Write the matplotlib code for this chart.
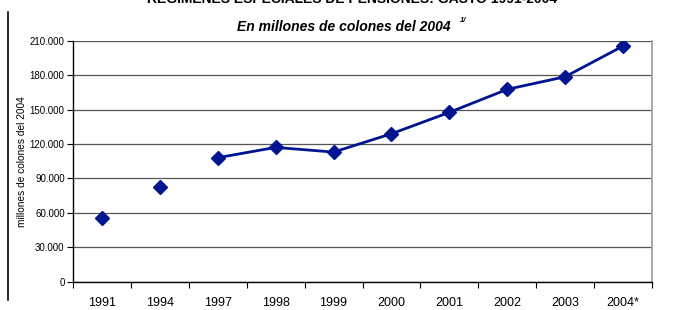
import matplotlib
matplotlib.use("Agg")
import matplotlib.pyplot as plt
from matplotlib.ticker import FuncFormatter, FixedLocator
from matplotlib.lines import Line2D

years = ["1991", "1994", "1997", "1998", "1999", "2000", "2001", "2002", "2003", "2004*"]
values = [55400, 82500, 108100, 117100, 113000, 129000, 147700, 167800, 178800, 205600]
connected_from = 2  # line starts at 1997

title = "REGIMENES ESPECIALES DE PENSIONES: GASTO 1991-2004"
subtitle = "En millones de colones del 2004"
ylabel = "millones de colones del 2004"

plt.rcParams['font.family'] = ['Liberation Sans', 'DejaVu Sans']

fig = plt.figure(figsize=(6.83, 3.10), dpi=100)
ax = fig.add_axes([73/683, 1-281.5/310, (652-73)/683, (281.5-41)/310])

navy = '#001590'
x = list(range(len(years)))
ax.plot(x[connected_from:], values[connected_from:], color=navy, lw=2, zorder=3)
ax.plot(x, values, ls='none', marker='D', ms=7, color=navy, zorder=4)

ax.set_xlim(-0.5, len(years) - 0.5)
ax.set_ylim(0, 210000)
ax.yaxis.set_major_locator(FixedLocator(range(0, 210001, 30000)))
ax.yaxis.set_major_formatter(FuncFormatter(lambda v, p: f"{int(v):,}".replace(",", ".")))
ax.tick_params(axis='y', labelsize=7, length=4, width=0.8, direction='out', pad=2)

ax.set_xticks([i - 0.5 for i in range(len(years) + 1)])
ax.set_xticklabels([])
ax.set_xticks(x, minor=True)
ax.set_xticklabels(years, minor=True, fontsize=9)
ax.tick_params(axis='x', which='major', length=4, width=0.8, direction='out')
ax.tick_params(axis='x', which='minor', length=0, pad=11)

ax.grid(axis='y', color='#555555', lw=0.9)
ax.set_axisbelow(True)
ax.spines['top'].set_visible(False)
ax.spines['right'].set_color('#999999')
ax.spines['right'].set_linewidth(1.2)
ax.spines['left'].set_color('black')
ax.spines['bottom'].set_color('black')
ax.spines['left'].set_linewidth(1)
ax.spines['bottom'].set_linewidth(1)

ax.set_ylabel(ylabel, fontsize=7.3, labelpad=2)

fig.text(352/683, 1 - 3/310, title, ha='center', va='baseline', fontsize=10, fontweight='bold')
fig.text(344/683, 1 - 27/310, subtitle, ha='center', va='center', fontsize=10, fontweight='bold', style='italic')
fig.text(460/683, 1 - 21/310, "1/", ha='left', va='center', fontsize=5.5, fontweight='bold', style='italic')

fig.add_artist(Line2D([8/683, 8/683], [1 - 12/310, 1 - 300/310], color='black', lw=1.2, transform=fig.transFigure))

fig.savefig("out.png", dpi=100)
